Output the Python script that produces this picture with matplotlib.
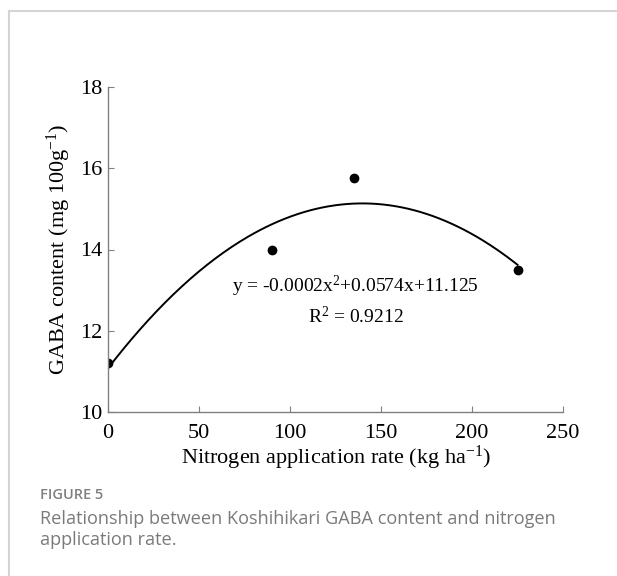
import numpy as np
import matplotlib
matplotlib.use("Agg")
import matplotlib.pyplot as plt

plt.rcParams['font.family'] = ['Liberation Serif', 'DejaVu Serif']
plt.rcParams['mathtext.fontset'] = 'custom'
plt.rcParams['mathtext.rm'] = 'Liberation Serif'
plt.rcParams['mathtext.default'] = 'regular'

# data
nitrogen = [0, 90, 135, 225]
gaba = [11.2, 14.0, 15.75, 13.5]
x_ticks = [0, 50, 100, 150, 200, 250]
y_ticks = [10, 12, 14, 16, 18]
equation = "y = -0.0002x$^{2}$+0.0574x+11.125"
r_squared = "R$^{2}$ = 0.9212"

fig = plt.figure(figsize=(6.17, 5.76), dpi=100)

# page-style frame lines (top and left)
fig.add_artist(plt.Line2D([9 / 617, 1], [1 - 11 / 576, 1 - 11 / 576], color='#d4d4d4', lw=1.5))
fig.add_artist(plt.Line2D([9 / 617, 9 / 617], [0, 1 - 11 / 576], color='#d4d4d4', lw=1.5))

ax = fig.add_axes([108 / 617, 1 - 412 / 576, 455 / 617, 325 / 576])

# quadratic trend line fitted to the points
coef = np.polyfit(nitrogen, gaba, 2)
xs = np.linspace(min(nitrogen), max(nitrogen), 200)
ax.plot(xs, np.polyval(coef, xs), color='black', lw=1.4)
ax.plot(nitrogen, gaba, 'o', color='black', ms=6)

ax.set_xlim(0, 250)
ax.set_ylim(10, 18)
ax.set_xticks(x_ticks)
ax.set_yticks(y_ticks)
for s in ['top', 'right']:
    ax.spines[s].set_visible(False)
for s in ['left', 'bottom']:
    ax.spines[s].set_color('#808080')
    ax.spines[s].set_linewidth(1)
ax.tick_params(direction='in', color='#808080', length=4, labelsize=16, pad=4)
ax.tick_params(axis='x', pad=9)

ax.set_xlabel("Nitrogen application rate (kg ha$^{-1}$)", fontsize=16, labelpad=0)
ax.set_ylabel("GABA content (mg 100g$^{-1}$)", fontsize=16, labelpad=5)

ax.text(136, 13.08, equation, ha='center', va='center', fontsize=14)
ax.text(136, 12.34, r_squared, ha='center', va='center', fontsize=14)

cap_font = ['Open Sans', 'DejaVu Sans']
fig.text(40 / 617, 1 - 495 / 576, "FIGURE 5", family=cap_font, fontsize=10.5,
         fontweight='semibold', color='#808080', va='center')
fig.text(40 / 617, 1 - 519 / 576, "Relationship between Koshihikari GABA content and nitrogen",
         family=cap_font, fontsize=13.1, color='#7a7a7a', va='center')
fig.text(40 / 617, 1 - 540 / 576, "application rate.",
         family=cap_font, fontsize=13.1, color='#7a7a7a', va='center')

fig.savefig("out.png", dpi=100)
